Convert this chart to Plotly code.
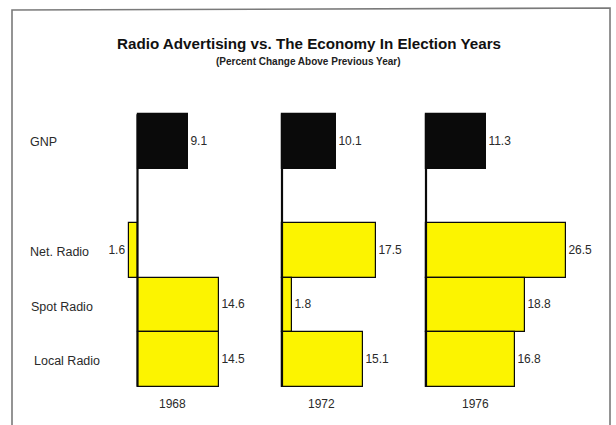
import plotly.graph_objects as go

# Percent change above previous year, by election year
years = ["1968", "1972", "1976"]
categories = ["GNP", "Net. Radio", "Spot Radio", "Local Radio"]
gnp = [9.1, 10.1, 11.3]
net_radio = [-1.6, 17.5, 26.5]
spot_radio = [14.6, 1.8, 18.8]
local_radio = [14.5, 15.1, 16.8]

# Row slots (GNP sits one empty slot above the radio rows)
row_pos = [0, 2, 3, 4]

W, H = 616, 425
BLACK = "#0a0a0a"
YELLOW = "#FCF400"
TEXT = "#2a2a2a"
FONT = "Liberation Sans, Arial, Helvetica, sans-serif"

# Pixel layout of each panel: domain edges, zero position, px per percent
panel_px = [
    dict(d0=112, d1=262, zero=137.5, scale=5.6),
    dict(d0=262, d1=406, zero=282.0, scale=5.35),
    dict(d0=406, d1=606, zero=426.0, scale=5.28),
]
year_center_px = [172.5, 321.5, 475.5]

# Vertical mapping: slot 0 centred at y=141.5 px, 54.5 px per slot
slot_px, slot0_px = 54.5, 141.5
y_range = [(H - slot0_px) / slot_px, (0 - slot0_px) / slot_px]

fig = go.Figure()

series = [gnp, net_radio, spot_radio, local_radio]
for i, year in enumerate(years):
    xname = "x" if i == 0 else f"x{i + 1}"
    vals = [s[i] for s in series]
    colors = [BLACK, YELLOW, YELLOW, YELLOW]
    fig.add_trace(go.Bar(
        x=vals,
        y=row_pos,
        orientation="h",
        width=[1] * len(vals),
        marker=dict(color=colors, line=dict(color=BLACK, width=1.2)),
        text=[f"{abs(v):.1f}" for v in vals],
        textposition="outside",
        textfont=dict(family=FONT, size=12, color=TEXT),
        cliponaxis=False,
        xaxis=xname,
        yaxis="y",
        showlegend=False,
        hoverinfo="skip",
    ))
    # vertical base line of the panel
    fig.add_shape(type="line", xref=xname, yref="y",
                  x0=0, x1=0, y0=-0.5, y1=4.5,
                  line=dict(color=BLACK, width=2.2))
    # year label under the panel
    fig.add_annotation(x=year_center_px[i] / W, y=1 - 404 / H,
                       xref="paper", yref="paper", text=year,
                       showarrow=False, xanchor="center", yanchor="middle",
                       font=dict(family=FONT, size=12, color=TEXT))

axis_common = dict(visible=False, showgrid=False, zeroline=False, fixedrange=True)
layout_axes = {}
for i, p in enumerate(panel_px):
    key = "xaxis" if i == 0 else f"xaxis{i + 1}"
    layout_axes[key] = dict(
        axis_common,
        domain=[p["d0"] / W, p["d1"] / W],
        range=[(p["d0"] - p["zero"]) / p["scale"], (p["d1"] - p["zero"]) / p["scale"]],
        anchor="y",
    )

# Row labels on the left
label_px = [(28, 141.5), (28, 252), (29, 306.5), (32, 361)]
for name, (lx, ly) in zip(categories, label_px):
    fig.add_annotation(x=lx / W, y=1 - ly / H, xref="paper", yref="paper",
                       text=name, showarrow=False, xanchor="left", yanchor="middle",
                       font=dict(family=FONT, size=12.5, color=TEXT))

# Title and subtitle
fig.add_annotation(x=308.5 / W, y=1 - 43 / H, xref="paper", yref="paper",
                   text="<b>Radio Advertising vs. The Economy In Election Years</b>",
                   showarrow=False, xanchor="center", yanchor="middle",
                   font=dict(family=FONT, size=15.2, color="#111111"))
fig.add_annotation(x=308 / W, y=1 - 61 / H, xref="paper", yref="paper",
                   text="<b>(Percent Change Above Previous Year)</b>",
                   showarrow=False, xanchor="center", yanchor="middle",
                   font=dict(family=FONT, size=10, color="#222222"))

# Outer frame (open at the bottom edge of the page)
fig.add_shape(type="path", xref="paper", yref="paper",
              path=f"M {12 / W} -0.05 L {12 / W} {1 - 10 / H} L {610 / W} {1 - 8 / H} L {610 / W} -0.05",
              line=dict(color="#7a7a7a", width=1.6))

fig.update_layout(
    width=W, height=H,
    margin=dict(l=0, r=0, t=0, b=0),
    paper_bgcolor="white",
    plot_bgcolor="rgba(0,0,0,0)",
    bargap=0,
    yaxis=dict(axis_common, domain=[0, 1], range=y_range),
    **layout_axes,
)

fig.write_html("out.html")
